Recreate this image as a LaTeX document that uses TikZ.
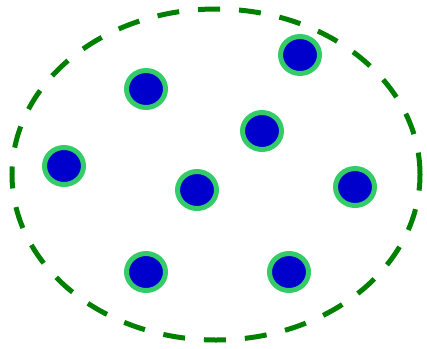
\documentclass[tikz,border=0pt]{standalone}
\usepackage{tikz}
\usetikzlibrary{shapes.geometric}
\definecolor{ringgreen}{RGB}{0, 128, 0}
\definecolor{dotrim}{RGB}{51, 204, 102}
\definecolor{dotblue}{RGB}{0, 0, 204}

\begin{document}
\begin{tikzpicture}[x=1pt, y=-1pt,
    dot/.style={ellipse, draw=dotrim, fill=dotblue, line width=5pt, minimum width=39pt, minimum height=37pt, inner sep=0pt}]
    \useasboundingbox (0,0) rectangle (427,348);
    \draw[line width=5pt, ringgreen, dash pattern=on 22pt off 19pt] (216,174.5) ellipse (204pt and 165.5pt);
    
    \node[dot] (d1) at (300,55) {};
    \node[dot] (d2) at (146,89) {};
    \node[dot] (d3) at (262,131) {};
    \node[dot] (d4) at (64,166) {};
    \node[dot] (d5) at (197,190) {};
    \node[dot] (d6) at (355,187) {};
    \node[dot] (d7) at (146,272) {};
    \node[dot] (d8) at (289,272) {};
  \end{tikzpicture}
\end{document}
